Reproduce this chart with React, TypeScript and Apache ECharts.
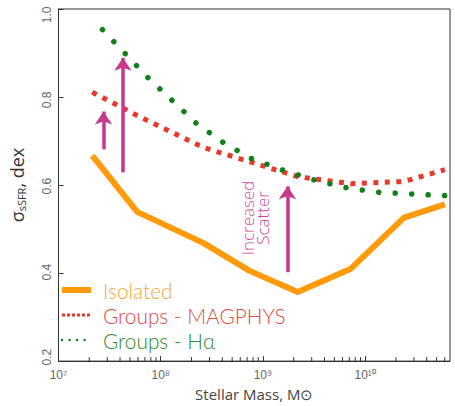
import React, { useEffect, useRef } from "react";
import * as echarts from "echarts";

// log10(M*/Msun) and sigma_sSFR (dex)
const isolatedLogM = [7.33, 7.77, 8.42, 8.87, 9.34, 9.86, 10.38, 10.78];
const isolatedSigma = [0.667, 0.539, 0.468, 0.405, 0.357, 0.41, 0.526, 0.556];
const magphysLogM = [7.33, 7.77, 8.42, 8.87, 9.34, 9.86, 10.38, 10.78];
const magphysSigma = [0.811, 0.758, 0.685, 0.653, 0.619, 0.603, 0.608, 0.635];
const haLogM = [7.43, 7.88, 8.35, 8.61, 8.88, 9.18, 9.48, 9.79, 10.1, 10.43, 10.78];
const haSigma = [0.953, 0.843, 0.74, 0.697, 0.661, 0.635, 0.613, 0.595, 0.584, 0.58, 0.576];

const seriesNames = ["Isolated", "Groups - MAGPHYS", "Groups - H\u03b1"];
const xTickLabels = ["10\u2077", "10\u2078", "10\u2079", "10\u00b9\u2070"];
const xDecades = [7, 8, 9, 10];
const minorMultipliers = [2, 3, 4, 5, 6, 7, 8, 9];
const yTickLabels = ["0.2", "0.4", "0.6", "0.8", "1.0"];

// annotation arrows: log mass, start sigma, end sigma
const arrowLogM = [7.44, 7.63, 9.24];
const arrowFrom = [0.681, 0.629, 0.402];
const arrowTo = [0.767, 0.889, 0.597];
const annotationText = "Increased\nScatter";

const X_MIN = 7;
const X_MAX = 10.83;
const Y_MIN = 0.2;
const Y_MAX = 1.0;

const ORANGE = "#FF9A0A";
const RED = "#E8392B";
const GREEN = "#11801A";
const MAGENTA = "#C8378E";
const FONT = "'Open Sans', 'Noto Sans', sans-serif";
const LEGENDFONT = "Lato, 'Open Sans', sans-serif";
const TICKFONT = "'Liberation Sans', Arial, sans-serif";

const zip = (a: number[], b: number[]) => a.map((v, i) => [v, b[i]]);

export default function App() {
  const ref = useRef<HTMLDivElement>(null);

  useEffect(() => {
    if (!ref.current) return;
    const chart = echarts.init(ref.current, undefined, { renderer: "svg" });

    const minorTicks: number[][] = [];
    xDecades.forEach((d) => {
      minorMultipliers.forEach((m) => {
        const v = d + Math.log10(m);
        if (v < X_MAX) minorTicks.push([v, Y_MIN]);
      });
    });

    // per-label shift along the rotated text (keeps 1.0 inside the page like the reference)
    const yRich: any = {
      l0: { padding: [0, 0, 0, 8] },
      l1: { padding: [0, 0, 0, 2] },
      l2: { padding: [0, 2, 0, 0] },
      l3: { padding: [0, 6, 0, 0] },
      l4: { padding: [0, 12, 0, 0] },
    };

    const hiddenSymbol = { color: "rgba(0,0,0,0)", opacity: 0, borderWidth: 0 };

    const option: any = {
      animation: false,
      backgroundColor: "#ffffff",
      grid: {
        left: 47,
        right: 5,
        top: 9,
        bottom: 44,
        show: true,
        borderColor: "#333",
        borderWidth: 1,
        backgroundColor: "transparent",
      },
      xAxis: {
        type: "value",
        min: X_MIN,
        max: X_MAX,
        interval: 1,
        name: "Stellar Mass, M\u2299",
        nameLocation: "middle",
        nameGap: 20,
        nameTextStyle: { fontFamily: FONT, fontSize: 15, color: "#444" },
        axisLine: { show: true, lineStyle: { color: "#333", width: 1 } },
        axisTick: { show: true, inside: true, length: 5, lineStyle: { color: "#333" } },
        splitLine: { show: false },
        axisLabel: {
          color: "#666",
          fontSize: 12,
          fontFamily: TICKFONT,
          margin: 8,
          showMaxLabel: false,
          formatter: (v: number) => {
            const i = xDecades.indexOf(Math.round(v * 1000) / 1000);
            return i >= 0 ? xTickLabels[i] : "";
          },
        },
      },
      yAxis: {
        type: "value",
        min: Y_MIN,
        max: Y_MAX,
        interval: 0.2,
        name: "{a|\u03c3}{b|sSFR}{a|, dex}",
        nameLocation: "middle",
        nameRotate: 90,
        nameGap: 32,
        nameTextStyle: {
          rich: {
            a: { fontFamily: FONT, fontSize: 18, color: "#333" },
            b: { fontFamily: FONT, fontSize: 11, color: "#333", padding: [8, 0, 0, 0] },
          },
        },
        axisLine: { show: true, lineStyle: { color: "#333", width: 1 } },
        axisTick: { show: true, inside: true, length: 5, lineStyle: { color: "#333" } },
        splitLine: { show: false },
        axisLabel: {
          rotate: 90,
          color: "#666",
          fontSize: 12,
          fontFamily: TICKFONT,
          margin: 6,
          rich: yRich,
          formatter: (v: number) => {
            const i = Math.round((v - Y_MIN) / 0.2);
            if (i < 0 || i >= yTickLabels.length) return "";
            return `{l${i}|${yTickLabels[i]}}`;
          },
        },
      },
      legend: {
        orient: "vertical",
        left: 59,
        top: 279,
        padding: 0,
        itemWidth: 29,
        itemHeight: 14,
        itemGap: 3,
        selectedMode: false,
        itemStyle: hiddenSymbol,
        textStyle: {
          fontFamily: LEGENDFONT,
          fontWeight: 300,
          fontSize: 20.8,
          lineHeight: 22,
          padding: [0, 0, 0, 7],
        },
        data: [
          {
            name: seriesNames[0],
            textStyle: { color: "#F7A43A" },
            itemStyle: hiddenSymbol,
            lineStyle: { width: 6, type: "solid" },
          },
          {
            name: seriesNames[1],
            textStyle: { color: "#E0483C" },
            itemStyle: hiddenSymbol,
            lineStyle: { width: 3, type: [3, 2] },
          },
          {
            name: seriesNames[2],
            textStyle: { color: "#2A8A2A" },
            itemStyle: hiddenSymbol,
            lineStyle: { width: 2.5, type: [0.01, 7.5], cap: "round" },
          },
        ],
      },
      series: [
        {
          name: seriesNames[0],
          type: "line",
          data: zip(isolatedLogM, isolatedSigma),
          showSymbol: false,
          symbol: "none",
          z: 3,
          lineStyle: { color: ORANGE, width: 6, join: "round" },
          itemStyle: { color: ORANGE },
          markLine: {
            silent: true,
            symbol: ["none", "arrow"],
            symbolSize: [13, 13],
            label: { show: false },
            lineStyle: { color: MAGENTA, width: 3.5, type: "solid" },
            emphasis: { disabled: true },
            data: arrowLogM.map((x, i) => [
              { coord: [x, arrowFrom[i]] },
              { coord: [x, arrowTo[i]] },
            ]),
          },
        },
        {
          name: seriesNames[1],
          type: "line",
          data: zip(magphysLogM, magphysSigma),
          showSymbol: false,
          symbol: "none",
          z: 4,
          lineStyle: { color: RED, width: 5, type: [5, 6.5], cap: "butt" },
          itemStyle: { color: RED },
        },
        {
          name: seriesNames[2],
          type: "line",
          data: zip(haLogM, haSigma),
          showSymbol: false,
          symbol: "none",
          z: 5,
          lineStyle: { color: GREEN, width: 5.5, type: [0.01, 16.5], cap: "round" },
          itemStyle: { color: GREEN },
        },
        {
          name: "minorTicks",
          type: "custom",
          silent: true,
          clip: false,
          z: 6,
          data: minorTicks,
          renderItem: (params: any, api: any) => {
            const p = api.coord([api.value(0), Y_MIN]);
            return {
              type: "line",
              shape: { x1: p[0], y1: p[1], x2: p[0], y2: p[1] - 4 },
              style: { stroke: "#333", lineWidth: 1 },
            };
          },
        },
      ],
      graphic: [
        {
          type: "text",
          x: 255,
          y: 218,
          rotation: Math.PI / 2,
          silent: true,
          style: {
            text: annotationText,
            fill: "#CE4596",
            fontFamily: FONT,
            fontWeight: 300,
            fontSize: 17,
            lineHeight: 15,
            align: "center",
            verticalAlign: "middle",
          },
        },
      ],
    };

    chart.setOption(option);
    return () => chart.dispose();
  }, []);

  return (
    <div
      ref={ref}
      style={{ position: "absolute", left: 0, top: 0, width: 455, height: 406 }}
    />
  );
}
